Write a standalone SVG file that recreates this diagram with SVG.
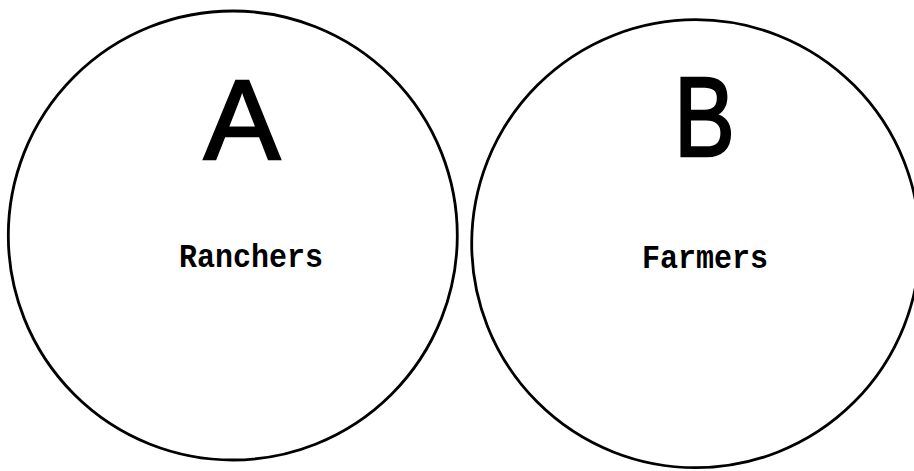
<svg xmlns="http://www.w3.org/2000/svg" width="914" height="471" viewBox="0 0 914 471">
<style>
.ring{fill:#fff;stroke:#000;stroke-width:2.8}
.big{font-family:"Liberation Sans",Arial,sans-serif;font-size:114px;fill:#000;stroke:#000;stroke-width:2.6;stroke-linejoin:miter;text-anchor:middle}
.lbl{font-family:"Liberation Mono","Courier New",monospace;font-weight:bold;font-size:33px;fill:#000;text-anchor:middle}
</style>
<rect width="914" height="471" fill="#fff"/>
<g id="node-a">
<circle class="ring" cx="232.8" cy="235.5" r="224.5"/>
<text class="big" x="242" y="159">A</text>
<text class="lbl" x="251" y="267" textLength="144" lengthAdjust="spacingAndGlyphs">Ranchers</text>
</g>
<g id="node-b">
<circle class="ring" cx="695.7" cy="243.7" r="224"/>
<text class="big" transform="translate(704.5,156) scale(0.8,1)">B</text>
<text class="lbl" x="705" y="268" textLength="126" lengthAdjust="spacingAndGlyphs">Farmers</text>
</g>
<g id="connectors"></g>
</svg>
